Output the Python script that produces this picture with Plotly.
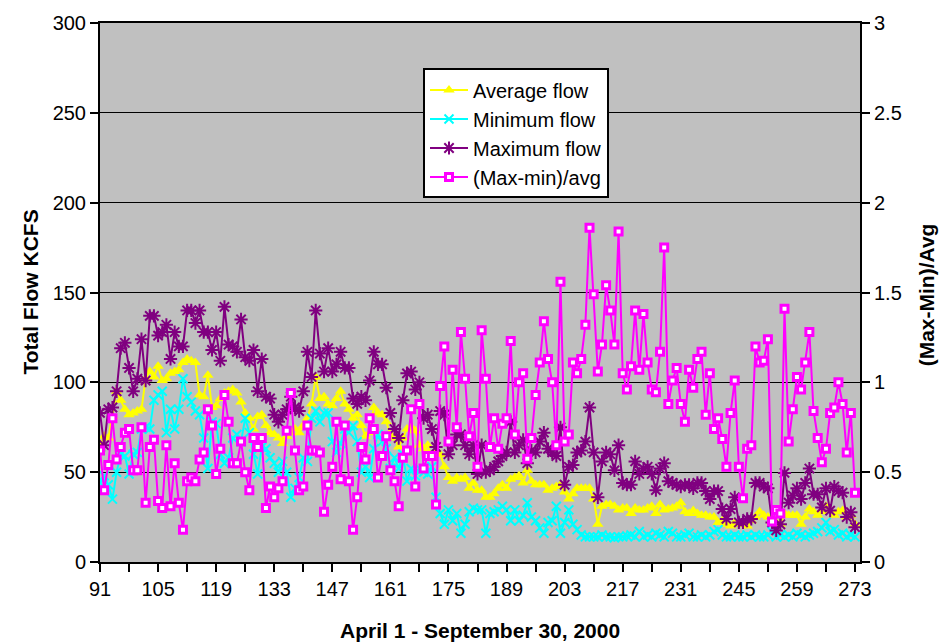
import plotly.graph_objects as go

days = list(range(91, 274))

avg_flow = [
    65, 70, 69, 81, 95, 90, 85, 82, 83, 84,
    85, 102, 106, 103, 109, 101, 102, 105, 106, 107,
    111, 113, 112, 111, 93, 92, 104, 86, 87, 91,
    94, 95, 96, 94, 89, 83, 80, 74, 81, 82,
    76, 72, 71, 69, 66, 70, 72, 74, 72, 76,
    80, 88, 103, 91, 92, 88, 87, 91, 95, 88,
    85, 80, 82, 76, 70, 72, 86, 83, 82, 78,
    71, 69, 64, 69, 74, 75, 73, 65, 63, 65,
    58, 61, 60, 53, 47, 45, 47, 46, 47, 41,
    44, 40, 40, 36, 36, 38, 41, 43, 41, 46,
    47, 48, 44, 51, 45, 43, 43, 43, 40, 41,
    42, 43, 39, 35, 38, 41, 41, 41, 41, 35,
    21, 31, 32, 32, 31, 29, 30, 30, 27, 30,
    29, 29, 30, 31, 27, 32, 29, 29.5, 30, 31,
    33, 28, 27, 28.6, 27, 26, 26, 25, 25, 22,
    23, 21, 20, 22, 21, 22, 20, 23, 25, 28,
    26, 25, 22, 22, 21, 27, 26, 26, 26, 21,
    25, 29.5, 28, 26, 28, 31, 28.6, 26, 28, 28.6,
    25, 26, 21,
]

min_flow = [
    44, 48, 43, 35, 50, 60, 59, 49, 60, 61,
    74, 75, 74, 90, 93, 95, 72, 85, 74, 85,
    102, 92, 89, 84, 82, 69, 52, 78, 77, 60,
    55, 58, 69, 71, 67, 80, 72, 60, 49, 64,
    63, 58, 55, 50, 56, 50, 36, 41, 47, 58,
    56, 80, 84, 78, 83, 83, 67, 61, 66, 74,
    72, 76, 67, 50, 53, 47, 63, 71, 67, 63,
    52, 58, 52, 60, 45, 52, 48, 52, 50, 49,
    53, 36, 27, 21, 29, 23, 27, 16, 21, 28,
    30, 29, 29, 16, 27, 28, 29, 31, 29, 23,
    29, 23, 26, 33, 25, 23, 19, 16, 22, 23,
    31, 16, 22, 29, 21, 18, 15, 14, 14, 14,
    14, 15, 14, 14, 13.5, 14, 14, 14.5, 15, 14,
    17, 14, 15, 14, 16, 15, 14, 17, 16, 14,
    14, 15, 16, 14, 14, 15, 14, 15, 17, 18,
    15, 14, 14, 15, 14, 14, 15, 14, 15, 14,
    14, 15, 17, 14, 15, 14, 15, 14, 16, 15,
    14, 15, 16, 17, 19, 22, 17, 18, 15, 16,
    14, 15, 14,
]

max_flow = [
    83, 65, 85, 86, 95, 119, 122, 108, 95, 102,
    124, 101, 137, 137, 126, 128, 132, 113, 128, 120,
    120, 140, 140, 133, 140, 128, 128, 118, 128, 112,
    142, 121, 120, 117, 135, 114, 112, 118, 95, 113,
    92, 91, 82, 78, 82, 85, 92, 86, 84, 95,
    117, 103, 140, 116, 106, 119, 106, 110, 117, 108,
    108, 91, 88, 92, 90, 101, 117, 110, 110, 97,
    83, 74, 69, 90, 105, 106, 96, 100, 80, 82,
    74, 64, 84, 82, 60, 65, 71, 71, 65, 60,
    65, 49, 65, 50, 51, 53, 56, 59, 61, 78,
    61, 65, 68, 55, 62, 61, 67, 72, 63, 61,
    59, 75, 43, 53, 54, 61, 62, 67, 86, 61,
    36, 56, 61, 60, 51, 65, 44, 43, 43, 56,
    49, 52, 53, 49, 40, 52, 55, 45, 44, 43,
    42, 43, 43, 41, 44, 44, 39.5, 35, 39.5, 39.5,
    29.5, 24, 29.5, 36, 22, 22, 24, 24, 44, 44,
    42, 41, 22, 17.6, 21, 49.6, 33, 37, 41, 35,
    44, 52, 37.7, 37.7, 30.4, 41, 28.6, 42, 39.5, 38.6,
    25, 27.7, 19.4,
]

ratio = [
    0.62, 0.40, 0.54, 0.80, 0.57, 0.64, 0.72, 0.74, 0.51, 0.51,
    0.75, 0.33, 0.64, 0.68, 0.34, 0.30, 0.65, 0.31, 0.55, 0.33,
    0.18, 0.45, 0.47, 0.45, 0.57, 0.61, 0.85, 0.76, 0.49, 0.63,
    0.93, 0.78, 0.55, 0.55, 0.67, 0.50, 0.40, 0.69, 0.64, 0.69,
    0.30, 0.42, 0.36, 0.41, 0.45, 0.73, 0.94, 0.62, 0.40, 0.42,
    0.76, 0.62, 0.62, 0.61, 0.28, 0.43, 0.53, 0.78, 0.46, 0.76,
    0.45, 0.18, 0.36, 0.64, 0.57, 0.80, 0.74, 0.47, 0.59, 0.70,
    0.51, 0.45, 0.31, 0.58, 0.62, 0.85, 0.42, 0.88, 0.52, 0.59,
    0.59, 0.32, 0.98, 1.20, 0.67, 1.07, 0.75, 1.28, 1.02, 0.70,
    0.83, 0.53, 1.29, 1.02, 0.64, 0.80, 0.63, 0.77, 0.80, 1.23,
    0.71, 1.00, 1.05, 0.575, 0.69, 0.93, 1.11, 1.34, 1.13, 1.00,
    0.65, 1.56, 0.67, 0.71, 1.11, 1.05, 1.13, 1.32, 1.86, 1.49,
    1.06, 1.21, 1.54, 1.40, 1.21, 1.84, 1.05, 0.96, 1.09, 1.40,
    1.07, 1.38, 1.11, 0.96, 0.945, 1.17, 1.75, 0.88, 1.01, 1.08,
    0.88, 0.78, 1.07, 0.97, 1.13, 1.17, 0.82, 1.05, 0.74, 0.80,
    0.685, 0.53, 0.83, 1.01, 0.53, 0.355, 0.63, 0.65, 1.20, 1.11,
    1.12, 1.24, 0.225, 0.29, 0.27, 1.41, 0.67, 0.85, 1.03, 0.96,
    1.11, 1.28, 0.84, 0.69, 0.555, 0.63, 0.83, 0.86, 1.00, 0.88,
    0.61, 0.83, 0.385,
]

x_tickvals = list(range(91, 274, 7))
x_ticktext = ["91", "", "105", "", "119", "", "133", "", "147", "", "161", "",
              "175", "", "189", "", "203", "", "217", "", "231", "", "245", "",
              "259", "", "273"]

FONT = "Liberation Sans, Arial, sans-serif"

fig = go.Figure()
fig.add_trace(go.Scatter(
    x=days, y=avg_flow, name="Average flow", mode="lines+markers",
    line=dict(color="#FFFF00", width=2),
    marker=dict(symbol="triangle-up", size=10, color="#FFFF00"),
))
fig.add_trace(go.Scatter(
    x=days, y=min_flow, name="Minimum flow", mode="lines+markers",
    line=dict(color="#00FFFF", width=2),
    marker=dict(symbol="x-thin", size=9, color="#00FFFF",
                line=dict(color="#00FFFF", width=2)),
))
fig.add_trace(go.Scatter(
    x=days, y=max_flow, name="Maximum flow", mode="lines+markers",
    line=dict(color="#800080", width=2),
    marker=dict(symbol="asterisk-open", size=11, color="#800080",
                line=dict(color="#800080", width=2)),
))
fig.add_trace(go.Scatter(
    x=days, y=ratio, name="(Max-min)/avg", mode="lines+markers", yaxis="y2",
    line=dict(color="#FF00FF", width=2),
    marker=dict(symbol="square", size=7, color="#FFFFFF",
                line=dict(color="#FF00FF", width=3)),
))

axis_common = dict(
    showline=True, linecolor="black", linewidth=2,
    ticks="outside", ticklen=8, tickwidth=2, tickcolor="black",
    tickfont=dict(family=FONT, size=20, color="black"),
    zeroline=False,
)

fig.update_layout(
    width=939, height=643,
    margin=dict(l=100, r=79, t=14, b=81),
    paper_bgcolor="white", plot_bgcolor="#C0C0C0",
    showlegend=True,
    legend=dict(
        x=0.425, y=0.9156, xanchor="left", yanchor="top",
        bgcolor="white", bordercolor="black", borderwidth=2,
        itemwidth=38,
        font=dict(family=FONT, size=20, color="black"),
    ),
    xaxis=dict(
        range=[91, 274.2], tickmode="array", tickvals=x_tickvals, ticktext=x_ticktext,
        showgrid=False, mirror=True, **axis_common,
    ),
    yaxis=dict(
        range=[0, 300], tickmode="linear", tick0=0, dtick=50,
        showgrid=True, gridcolor="black", gridwidth=1, **axis_common,
    ),
    yaxis2=dict(
        range=[0, 3], tickmode="linear", tick0=0, dtick=0.5,
        overlaying="y", side="right", showgrid=False, **axis_common,
    ),
    annotations=[
        dict(text="<b>Total Flow KCFS</b>", textangle=-90, xref="paper", yref="paper",
             x=-0.092, y=0.5, xanchor="center", yanchor="middle", showarrow=False,
             font=dict(family=FONT, size=21, color="black")),
        dict(text="<b>(Max-Min)/Avg</b>", textangle=-90, xref="paper", yref="paper",
             x=1.087, y=0.495, xanchor="center", yanchor="middle", showarrow=False,
             font=dict(family=FONT, size=21, color="black")),
        dict(text="<b>April 1 - September 30, 2000</b>", xref="paper", yref="paper",
             x=0.5, y=-0.1266, xanchor="center", yanchor="middle", showarrow=False,
             font=dict(family=FONT, size=21, color="black")),
    ],
)

fig.write_html("out.html", config={"displayModeBar": False},
               post_script="document.body.style.margin='0';document.body.style.overflow='hidden';")
